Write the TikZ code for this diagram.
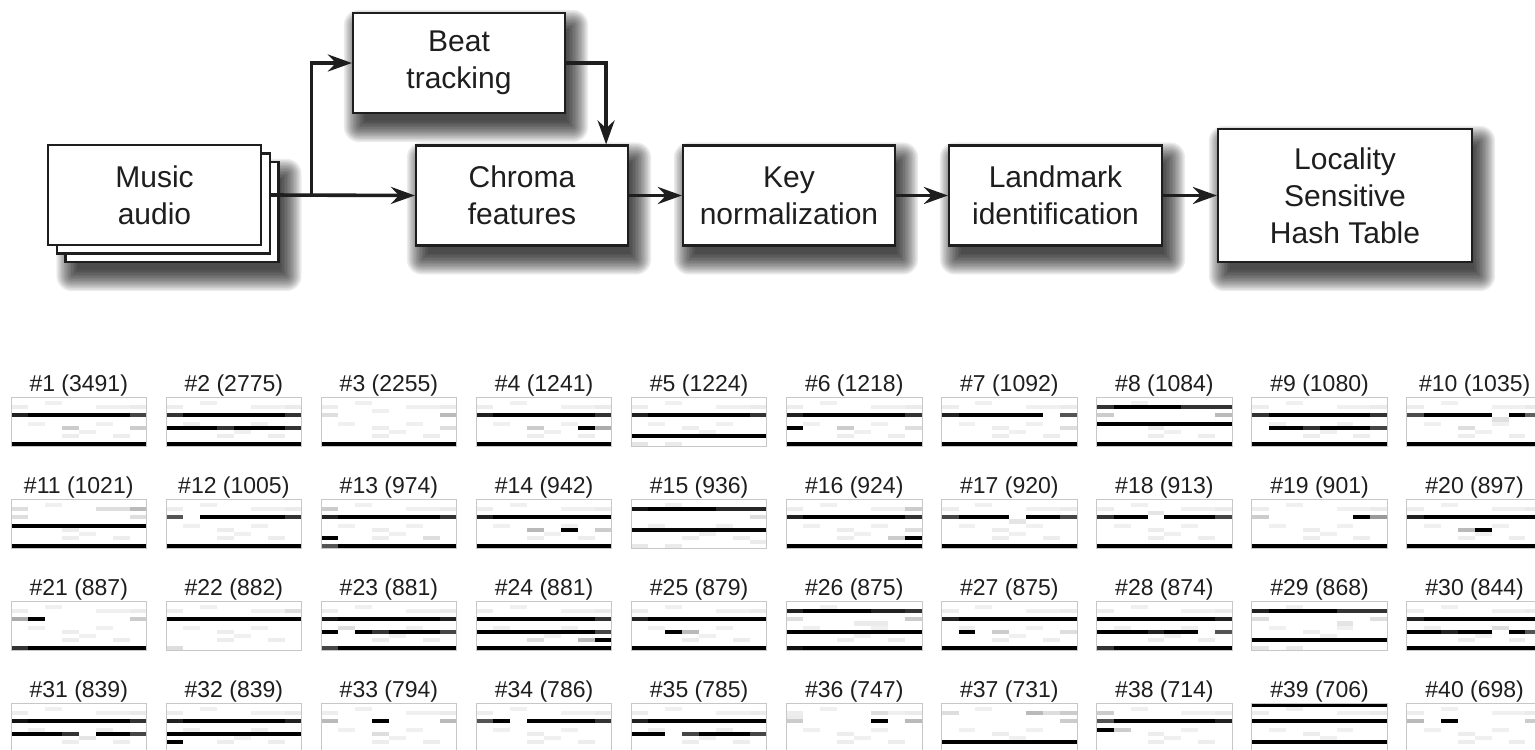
\documentclass[tikz,border=0pt]{standalone}
\usepackage{fontspec}
\setmainfont{Liberation Sans}
\usetikzlibrary{arrows.meta,calc}
\pgfdeclarelayer{bg}
\pgfdeclarelayer{shade}
\pgfsetlayers{bg,shade,main}
\definecolor{ink}{HTML}{1E1E1E}
\tikzset{
  procbox/.style={draw=ink, line width=2.2pt, fill=white, minimum width=212pt, minimum height=100pt,
    inner sep=0pt, align=center, font=\fontsize{30}{37}\selectfont, text=ink},
  flow/.style={draw=ink, line width=3.6pt, -{Stealth[length=24pt,width=17pt,inset=8pt]}},
  tilelabel/.style={font=\fontsize{23}{26}\selectfont, text=ink, anchor=base, inner sep=0pt},
  tileframe/.style={draw=black!22, line width=0.9pt},
}
\newcommand{\castshadow}[1]{%
\begin{pgfonlayer}{shade}
\foreach \sv in {-6,-4.5,...,15} {
  \fill[black,opacity=0.075,rounded corners={max(\sv,0)*1pt}]
    ([shift={(7pt-\sv pt,-13pt+\sv pt)}]#1.north west) rectangle
    ([shift={(7pt+\sv pt,-13pt-\sv pt)}]#1.south east);
}
\end{pgfonlayer}}
% #1 column index, #2 row index, #3 number, #4 count, #5 cells ca/cb/row/gray
\newcommand{\chromatile}[5]{%
\begin{scope}[shift={(11+155.1*#1,397+102*#2)}]
  \fill[white] (0,0) rectangle (135.5,49);
  \foreach \ca/\rw/\gv in {2/1/6,0/2/7,5/2/6,6/2/6,7/2/8,1/6/6,5/6/6,3/7/7,4/8/6,3/9/7,6/9/7}
    \fill[black!\gv] (\ca*16.94,\rw*4.083) rectangle ++(16.94,4.083);
  \foreach \ca/\cb/\rw/\gv in {#5}
    \fill[black!\gv] (\ca*16.94,\rw*4.083) rectangle (\cb*16.94+16.94,\rw*4.083+4.083);
  \draw[tileframe] (0,0) rectangle (135.5,49);
  \node[tilelabel] (lbl#3) at (67.75,-5.5) {\##3 (#4)};
\end{scope}}
\begin{document}
\begin{tikzpicture}[x=1pt,y=-1pt]
\useasboundingbox (0,0) rectangle (1535,750);
\begin{pgfonlayer}{bg}
\fill[white] (0,0) rectangle (1535,750);
\end{pgfonlayer}
\clip (0,0) rectangle (1535,750);

% ---------- pipeline ----------
\node[procbox, minimum width=213pt] (music3) at (172,212) {};
\castshadow{music3}
\node[procbox, minimum width=213pt] (music2) at (163.25,203.5) {};
\node[procbox, minimum width=213pt] (music) at (154.5,195) {Music\\audio};
\node[procbox] (beat) at (459,63) {Beat\\tracking};
\castshadow{beat}
\node[procbox] (chroma) at (522,195.5) {Chroma\\features};
\castshadow{chroma}
\node[procbox] (key) at (789,195.5) {Key\\normalization};
\castshadow{key}
\node[procbox, minimum width=213pt] (land) at (1055.5,195.5) {Landmark\\identification};
\castshadow{land}
\node[procbox, minimum width=254pt, minimum height=133pt] (lsh) at (1345,195.5) {Locality\\Sensitive\\Hash Table};
\castshadow{lsh}

\coordinate (split) at (311.5,195);
\draw[flow] (music2.east |- music.east) -- (chroma.west);
\draw[flow] (split) |- (beat.west);
\draw[flow] (beat.east) -| ([xshift=-23pt]chroma.north east);
\draw[flow] (chroma.east) -- (key.west);
\draw[flow] (key.east) -- (land.west);
\draw[flow] (land.east) -- (lsh.west);

% ---------- chroma tiles ----------
\chromatile{0}{0}{1}{3491}{0/0/4/87,1/6/4/100,7/7/4/73,3/3/7/20,7/7/7/20,0/7/11/100}
\chromatile{1}{0}{2}{2775}{0/0/4/80,1/6/4/100,7/7/4/80,0/2/7/100,3/3/7/80,4/6/7/100,7/7/7/80,0/7/11/100}
\chromatile{2}{0}{3}{2255}{0/0/4/13,7/7/4/27,3/3/3/6,7/7/7/13,0/7/11/100}
\chromatile{3}{0}{4}{1241}{0/0/4/87,1/6/4/100,7/7/4/80,3/3/7/20,6/6/7/100,7/7/7/33,0/7/11/100}
\chromatile{4}{0}{5}{1224}{0/0/4/87,1/6/4/100,7/7/4/80,0/7/9/100,0/0/11/10,2/2/11/8}
\chromatile{5}{0}{6}{1218}{0/0/4/87,1/6/4/100,7/7/4/80,0/0/7/100,3/3/7/20,7/7/7/13,0/7/11/100}
\chromatile{6}{0}{7}{1092}{0/0/4/87,1/5/4/100,7/7/4/67,7/7/7/13,0/7/11/100}
\chromatile{7}{0}{8}{1084}{0/0/2/80,1/4/2/100,5/7/2/80,0/0/4/20,7/7/4/27,0/7/6/100,0/7/11/100}
\chromatile{8}{0}{9}{1080}{0/0/4/80,1/6/4/100,7/7/4/80,1/2/7/100,3/3/7/80,4/6/7/100,7/7/7/73,0/7/11/100}
\chromatile{9}{0}{10}{1035}{0/0/4/70,1/4/4/100,6/6/4/100,7/7/4/62,5/5/5/12,3/3/7/13,0/7/11/100}

\chromatile{0}{1}{11}{1021}{0/0/2/13,5/6/2/13,7/7/2/27,0/0/4/13,7/7/4/13,0/7/6/100,0/7/11/100}
\chromatile{1}{1}{12}{1005}{0/0/4/67,2/6/4/100,7/7/4/80,0/7/11/100}
\chromatile{2}{1}{13}{974}{0/0/2/20,0/0/4/87,1/6/4/100,7/7/4/80,0/0/9/100,6/6/9/13,0/0/11/67,1/7/11/100}
\chromatile{3}{1}{14}{942}{0/0/4/87,1/7/4/100,3/3/7/27,5/5/7/100,7/7/7/20,0/7/11/100}
\chromatile{4}{1}{15}{936}{0/0/2/93,1/4/2/100,5/7/2/85,7/7/4/13,0/7/7/97,7/7/10/8,0/0/11/9,2/2/11/8}
\chromatile{5}{1}{16}{924}{7/7/2/20,0/0/4/87,1/6/4/100,7/7/4/80,7/7/7/13,6/6/9/20,7/7/9/100,0/7/11/100}
\chromatile{6}{1}{17}{920}{0/0/4/73,1/3/4/100,4/4/5/10,5/6/4/100,7/7/4/73,0/7/11/100}
\chromatile{7}{1}{18}{913}{0/0/4/80,1/2/4/100,3/3/3/10,4/6/4/100,7/7/4/73,0/7/11/100}
\chromatile{8}{1}{19}{901}{0/0/4/20,6/6/4/100,7/7/4/40,0/7/11/100}
\chromatile{9}{1}{20}{897}{0/0/4/87,1/7/4/100,3/3/7/27,4/4/7/100,0/7/11/100}

\chromatile{0}{2}{21}{887}{0/0/4/33,1/1/4/100,7/7/4/20,0/0/11/80,1/7/11/100}
\chromatile{1}{2}{22}{882}{0/7/4/100,7/7/2/13,0/0/11/13}
\chromatile{2}{2}{23}{881}{0/0/4/93,1/6/4/100,7/7/4/87,1/1/6/13,0/0/7/100,2/6/7/100,3/3/7/80,7/7/7/73,0/0/11/73,1/7/11/100}
\chromatile{3}{2}{24}{881}{0/6/4/100,7/7/4/80,0/6/7/100,7/7/7/73,3/3/9/13,6/6/9/27,7/7/9/100,0/7/11/100}
\chromatile{4}{2}{25}{879}{0/0/4/87,1/7/4/100,2/2/7/100,3/3/7/27,0/7/11/100}
\chromatile{5}{2}{26}{875}{0/0/2/87,1/4/2/100,5/6/2/87,7/7/2/80,0/0/4/13,7/7/4/20,4/5/5/8,0/7/7/100,0/0/11/93,1/7/11/100}
\chromatile{6}{2}{27}{875}{0/0/4/87,1/7/4/100,1/1/7/100,3/3/7/20,7/7/7/13,0/7/11/100}
\chromatile{7}{2}{28}{874}{0/6/4/100,7/7/4/87,0/2/7/100,3/3/7/87,4/5/7/100,7/7/7/67,0/0/11/80,1/7/11/100}
\chromatile{8}{2}{29}{868}{0/0/2/87,1/4/2/100,5/7/2/80,0/0/4/13,7/7/4/13,5/5/5/10,0/7/9/100,0/0/11/10,2/2/11/8}
\chromatile{9}{2}{30}{844}{0/0/4/87,1/7/4/100,0/4/7/100,2/2/7/87,5/5/6/13,6/6/7/100,7/7/7/67,0/7/11/100}

\chromatile{0}{3}{31}{839}{0/0/4/93,1/6/4/100,7/7/4/80,0/2/7/100,3/3/7/80,4/4/8/10,5/6/7/100,7/7/7/73}
\chromatile{1}{3}{32}{839}{0/0/4/87,1/6/4/100,7/7/4/87,0/7/7/100,0/0/9/100}
\chromatile{2}{3}{33}{794}{0/0/4/27,3/3/4/100,7/7/4/27,3/3/7/13}
\chromatile{3}{3}{34}{786}{0/0/4/67,1/1/4/100,3/6/4/100,7/7/4/80}
\chromatile{4}{3}{35}{785}{0/0/4/87,1/7/4/100,0/1/7/100,3/3/7/73,4/6/7/100,7/7/7/73}
\chromatile{5}{3}{36}{747}{0/0/4/20,5/5/4/100,7/7/4/27,5/5/2/13,0/0/3/8}
\chromatile{6}{3}{37}{731}{0/0/2/13,5/5/2/27,6/6/2/13,7/7/2/20,7/7/4/20,0/7/9/100}
\chromatile{7}{3}{38}{714}{0/0/2/20,0/0/4/67,1/6/4/100,7/7/4/87,0/0/6/100,1/1/6/20}
\chromatile{8}{3}{39}{706}{0/7/0/100,0/7/4/100,0/7/9/100}
\chromatile{9}{3}{40}{698}{0/0/4/27,2/2/4/100,7/7/4/20}
\end{tikzpicture}
\end{document}
